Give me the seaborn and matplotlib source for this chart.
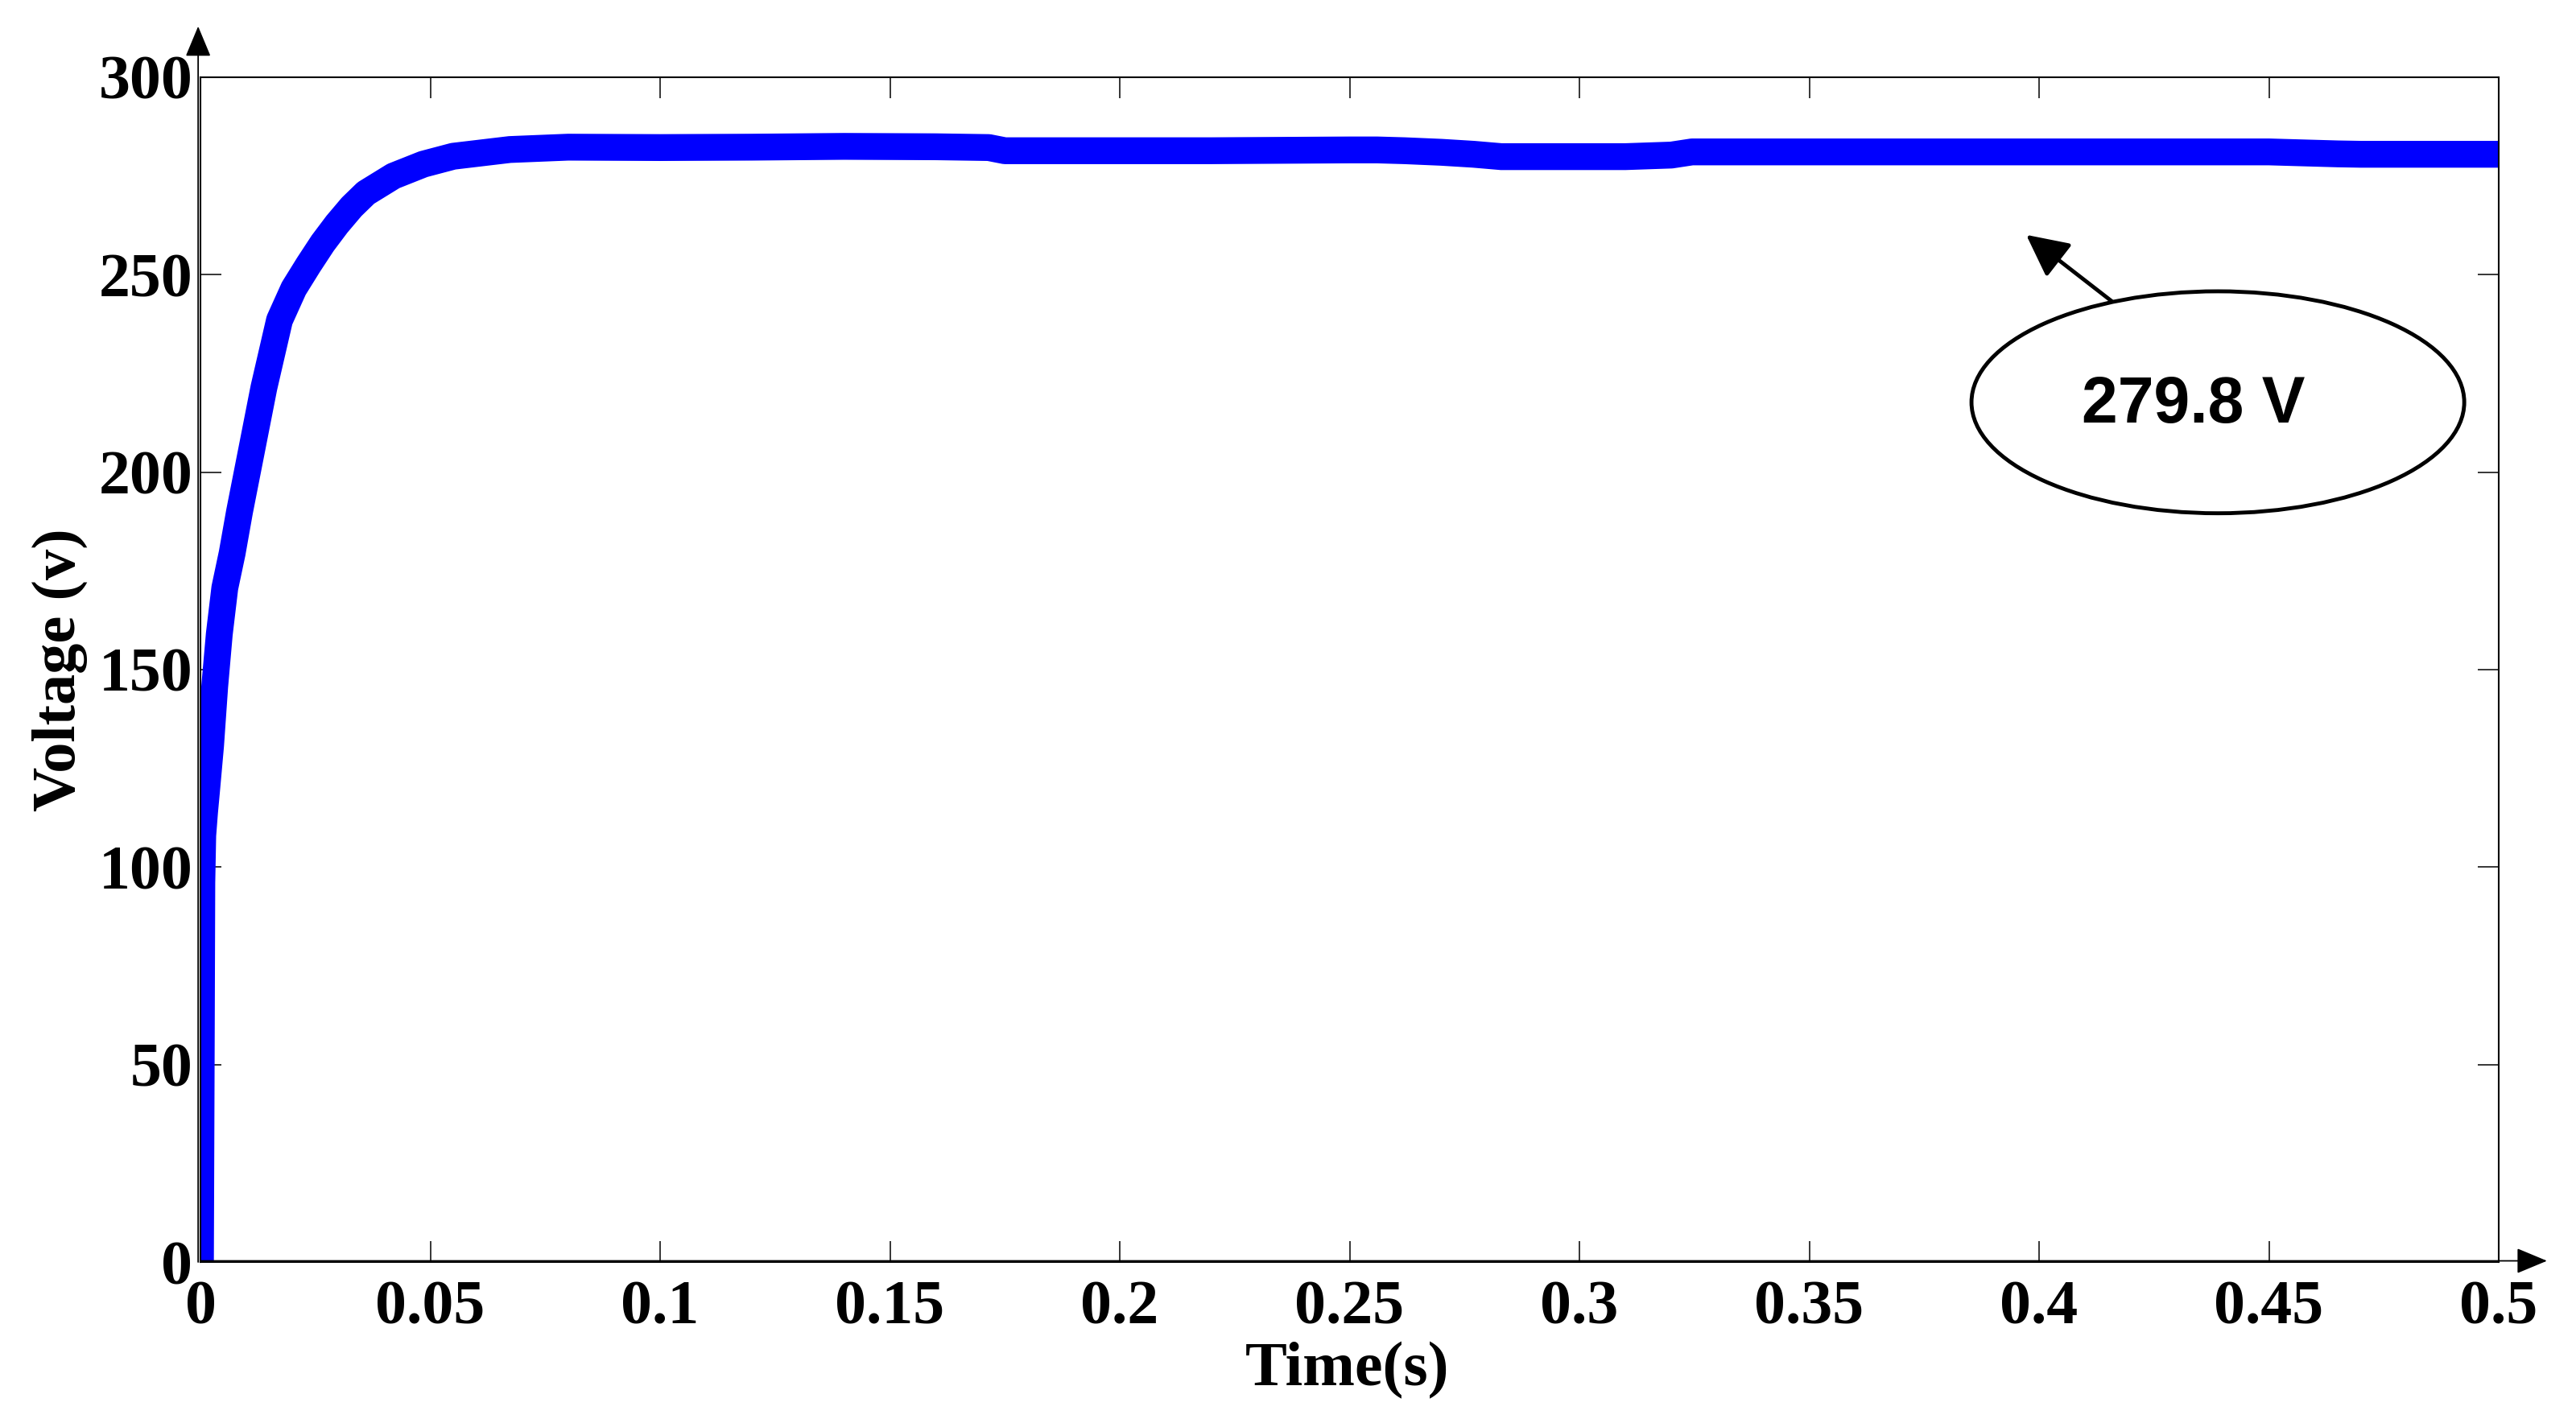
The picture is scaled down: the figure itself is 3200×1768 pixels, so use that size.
import numpy as np
import pandas as pd
import matplotlib
matplotlib.use("Agg")
import matplotlib.pyplot as plt
import seaborn as sns
from matplotlib.patches import Ellipse

# ---- data ----
time_s = [0.0, 0.0002, 0.0003, 0.0005, 0.0009, 0.0013, 0.0022, 0.0031, 0.0041,
          0.0053, 0.0069, 0.0085, 0.0110, 0.0138, 0.0172, 0.0203, 0.0235, 0.0266,
          0.0297, 0.0329, 0.0360, 0.0420, 0.0485, 0.0550, 0.0673, 0.0800, 0.1000,
          0.1200, 0.1400, 0.1600, 0.1715, 0.1750, 0.2000, 0.2200, 0.2500, 0.2560,
          0.2620, 0.2700, 0.2770, 0.2830, 0.2900, 0.3000, 0.3100, 0.3200, 0.3245,
          0.3500, 0.4000, 0.4500, 0.4650, 0.4700, 0.5000]
voltage_v = [0.0, 62.0, 96.0, 108.0, 114.0, 119.0, 130.7, 145.7, 159.0,
             170.7, 179.5, 190.0, 204.8, 221.4, 238.5, 246.5, 252.5, 258.0,
             262.8, 267.2, 270.7, 275.0, 278.0, 280.0, 281.7, 282.3, 282.2,
             282.3, 282.5, 282.4, 282.2, 281.4, 281.4, 281.4, 281.6, 281.6,
             281.4, 281.0, 280.5, 279.9, 279.9, 279.9, 279.9, 280.3, 281.1,
             281.1, 281.1, 281.1, 280.6, 280.5, 280.5]

x_ticks = [0, 0.05, 0.1, 0.15, 0.2, 0.25, 0.3, 0.35, 0.4, 0.45, 0.5]
x_tick_labels = ["0", "0.05", "0.1", "0.15", "0.2", "0.25", "0.3", "0.35", "0.4", "0.45", "0.5"]
y_ticks = [0, 50, 100, 150, 200, 250, 300]
y_tick_labels = ["0", "50", "100", "150", "200", "250", "300"]

x_label = "Time(s)"
y_label = "Voltage (v)"
note_text = "279.8 V"

# ---- style ----
sns.set_style("white")
plt.rcParams["font.family"] = ["Liberation Serif", "DejaVu Serif"]
plt.rcParams["text.color"] = "black"
plt.rcParams["axes.labelcolor"] = "black"
plt.rcParams["xtick.color"] = "black"
plt.rcParams["ytick.color"] = "black"

W, H = 3200, 1768
fig = plt.figure(figsize=(W / 100, H / 100), dpi=100)
left, right, top, bottom = 249, 3104, 96, 1568
ax = fig.add_axes([left / W, 1 - bottom / H, (right - left) / W, (bottom - top) / H])

df = pd.DataFrame({"Time": time_s, "Voltage": voltage_v})
sns.lineplot(data=df, x="Time", y="Voltage", ax=ax, color="#0000FF",
             linewidth=24, estimator=None, sort=False, legend=False)

ax.set_xlim(0, 0.5)
ax.set_ylim(0, 300)
ax.set_xticks(x_ticks, labels=x_tick_labels, fontsize=56, fontweight="bold")
ax.set_yticks(y_ticks, labels=y_tick_labels, fontsize=56, fontweight="bold")
ax.tick_params(axis="both", direction="in", length=19, width=1.1, color="black",
               labelcolor="black", top=True, right=True, bottom=True, left=True)
ax.tick_params(axis="x", pad=16)
ax.tick_params(axis="y", pad=7)

for sp in ax.spines.values():
    sp.set_visible(True)
    sp.set_color("black")
    sp.set_linewidth(1.5)

ax.set_xlabel(x_label, fontsize=56, fontweight="bold", color="black")
ax.set_ylabel(y_label, fontsize=55, fontweight="bold", color="black")
ax.xaxis.set_label_coords(0.499, -0.067)
ax.yaxis.set_label_coords(-0.049, 0.5)

# axis arrows (MATLAB-style)
arrow_kw = dict(arrowstyle="-|>,head_length=0.6,head_width=0.25", mutation_scale=40,
                lw=1.3, color="black", shrinkA=0, shrinkB=0)
ax.annotate("", xy=(-0.001, 1.043), xytext=(-0.001, 0.0), xycoords="axes fraction",
            textcoords="axes fraction", arrowprops=arrow_kw, annotation_clip=False)
ax.annotate("", xy=(1.021, 0.001), xytext=(0.0, 0.001), xycoords="axes fraction",
            textcoords="axes fraction", arrowprops=arrow_kw, annotation_clip=False)

# ellipse annotation
ell = Ellipse((0.4389, 217.7), width=0.1072, height=56.2, fill=False,
              edgecolor="black", linewidth=3.5, zorder=5)
ax.add_patch(ell)
ax.text(0.4336, 216.8, note_text, ha="center", va="center", fontsize=58,
        fontweight="bold", family=["Liberation Sans", "DejaVu Sans"], color="black", zorder=6)
ax.annotate("", xy=(0.3972, 260.1), xytext=(0.4158, 243.3),
            arrowprops=dict(arrowstyle="-|>,head_length=0.8,head_width=0.4",
                            mutation_scale=40, lw=3.5, color="black",
                            shrinkA=0, shrinkB=0), zorder=6)

fig.savefig("out.png", dpi=100, facecolor="white")
